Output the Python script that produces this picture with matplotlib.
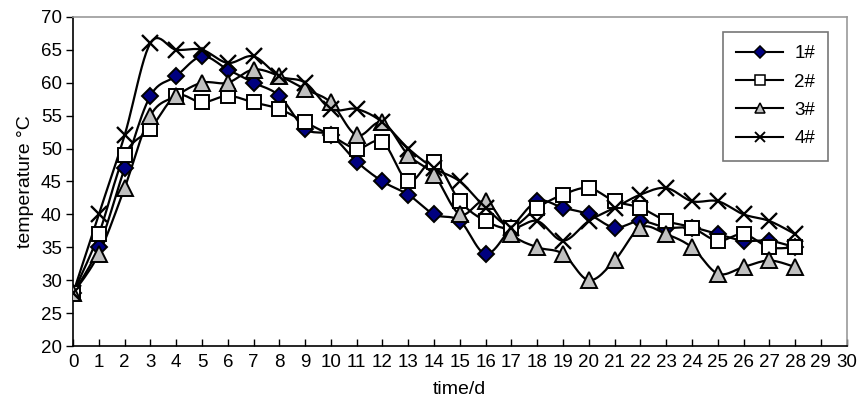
import numpy as np
import matplotlib
matplotlib.use("Agg")
import matplotlib.pyplot as plt
from matplotlib.lines import Line2D

plt.rcParams['font.family'] = ['Liberation Sans', 'DejaVu Sans']

days = list(range(0, 29))
s1 = [28, 35, 47, 58, 61, 64, 62, 60, 58, 53, 52, 48, 45, 43, 40, 39, 34, 38, 42, 41, 40, 38, 39, 38, 38, 37, 36, 36, 35]
s2 = [28, 37, 49, 53, 58, 57, 58, 57, 56, 54, 52, 50, 51, 45, 48, 42, 39, 38, 41, 43, 44, 42, 41, 39, 38, 36, 37, 35, 35]
s3 = [28, 34, 44, 55, 58, 60, 60, 62, 61, 59, 57, 52, 54, 49, 46, 40, 42, 37, 35, 34, 30, 33, 38, 37, 35, 31, 32, 33, 32]
s4 = [28, 40, 52, 66, 65, 65, 63, 64, 61, 60, 56, 56, 54, 50, 47, 45, 41, 38, 39, 36, 39, 41, 43, 44, 42, 42, 40, 39, 37]
labels = ['1#', '2#', '3#', '4#']
xticks = list(range(0, 31))
yticks = list(range(20, 71, 5))


def smooth(x, y, n=12):
    x = np.asarray(x, float)
    y = np.asarray(y, float)
    px = np.concatenate([[x[0]], x, [x[-1]]])
    py = np.concatenate([[y[0]], y, [y[-1]]])
    xs, ys = [], []
    t = np.linspace(0, 1, n, endpoint=False)
    for i in range(1, len(px) - 2):
        p0, p1, p2, p3 = (np.array([px[j], py[j]]) for j in (i - 1, i, i + 1, i + 2))
        c1 = p1 + (p2 - p0) / 6.0
        c2 = p2 - (p3 - p1) / 6.0
        for tt in t:
            b = ((1 - tt) ** 3) * p1 + 3 * ((1 - tt) ** 2) * tt * c1 + 3 * (1 - tt) * tt ** 2 * c2 + tt ** 3 * p2
            xs.append(b[0]); ys.append(b[1])
    xs.append(x[-1]); ys.append(y[-1])
    return xs, ys


fig = plt.figure(figsize=(8.64, 4.01), dpi=100)
ax = fig.add_axes([0.0845, 0.137, 0.8955, 0.821])

styles = [
    dict(marker='D', markerfacecolor='#000080', markersize=8.5),
    dict(marker='s', markerfacecolor='white', markersize=10.5),
    dict(marker='^', markerfacecolor='#C0C0C0', markersize=11),
    dict(marker='x', markerfacecolor='none', markersize=11, markeredgewidth=1.7),
]
series = [s1, s2, s3, s4]
handles = []
for s, st, lab in zip(series, styles, labels):
    sx, sy = smooth(days, s)
    ax.plot(sx, sy, color='black', lw=1.6, zorder=2)
    mew = st.pop('markeredgewidth', 1.4)
    ax.plot(days, s, linestyle='none', markeredgecolor='black', markeredgewidth=mew, zorder=3, **st)
    handles.append(Line2D([0], [0], color='black', lw=1.5, markeredgecolor='black',
                          markeredgewidth=mew * 0.8,
                          **{**st, 'markersize': st['markersize'] * 0.7}))

ax.set_xlim(0, 30)
ax.set_ylim(20, 70)
ax.set_xticks(xticks)
ax.set_yticks(yticks)
ax.tick_params(axis='x', direction='in', length=5, labelsize=13.5, pad=6, width=1)
ax.tick_params(axis='y', direction='out', length=5, labelsize=13.5, pad=3, width=1)
for side in ('top', 'right'):
    ax.spines[side].set_color('#999999')
    ax.spines[side].set_linewidth(1.2)
for side in ('left', 'bottom'):
    ax.spines[side].set_color('black')
    ax.spines[side].set_linewidth(1.2)

ax.set_xlabel('time/d', fontsize=14, labelpad=7)
ax.set_ylabel('temperature \u00b0C', fontsize=14, labelpad=5)

leg = ax.legend(handles, labels, loc='upper left', bbox_to_anchor=(723 / 864, 1 - 32 / 401),
                bbox_transform=fig.transFigure, fontsize=13.5, frameon=True, fancybox=False,
                handlelength=2.5, labelspacing=0.6, borderpad=0.7, handletextpad=0.6,
                borderaxespad=0)
leg.get_frame().set_edgecolor('#555555')
leg.get_frame().set_linewidth(1.2)

fig.savefig('out.png', dpi=100)
